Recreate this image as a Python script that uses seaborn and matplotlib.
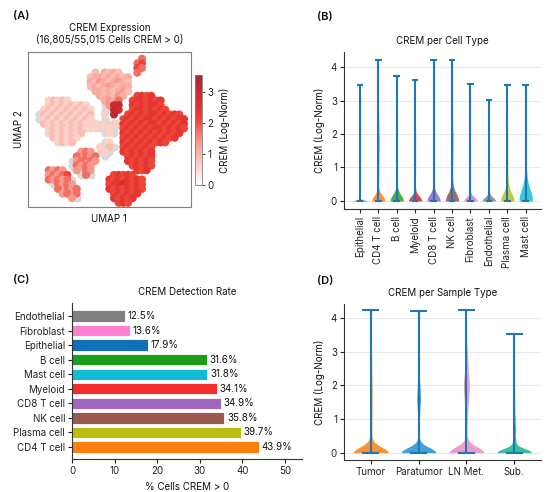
import numpy as np
import pandas as pd
import matplotlib
matplotlib.use("Agg")
import matplotlib.pyplot as plt
from matplotlib.colors import LinearSegmentedColormap, Normalize
from matplotlib.cm import ScalarMappable
import seaborn as sns

# ---------------- Panel A data: UMAP drawn as a coarse grid
# '.' = no cell, 'g' = cells with CREM = 0 (grey), digit = expression level index
umap_rows = [
    "...................................",
    "........................5..........",
    ".......................56..........",
    ".......................65..........",
    "..............2.3232...5...........",
    ".............233232323.............",
    ".............324323432.............",
    ".............232343233.............",
    "..............33232342.............",
    "...............323243..6767........",
    "....12121.......3435..6776767......",
    "....121212121...g489..7676776......",
    "...12121212121..g.98..67767676.....",
    "..g21212121212..1.9..676767767676..",
    "..g12121212121..g...67676776767677.",
    "...2121212121g1g1g1176767677676767.",
    "....1212121211g1g1g.67676767767676.",
    "....12121212....g1g.7676767676767..",
    ".....212121.........676767676767...",
    "......1212......g1..7676767676.....",
    "...............1g2g.6767676........",
    "...........454.g1g..7676767........",
    "..........5g545.g....676767........",
    ".........g45g54......767676........",
    ".........g5454........67676........",
    "....5454..4g54.........767.........",
    "....45456..g5g....67676............",
    "....54545g.......76767676..........",
    ".....g5454.......67787676..........",
    "......5g545......76767676..........",
    ".......45g5.......676767...........",
    ".........4g.......76767............",
    "...................676.............",
]
umap_level_values = [0.0, 0.65, 0.9, 1.15, 1.4, 1.75, 2.1, 2.45, 2.8, 3.15]
umap_title = "CREM Expression\n(16,805/55,015 Cells CREM > 0)"
cbar_ticks = [0, 1, 2, 3]
cbar_max = 3.55

# ---------------- Panel B data: CREM per cell type (histograms)
cell_types = ["Epithelial", "CD4 T cell", "B cell", "Myeloid", "CD8 T cell",
              "NK cell", "Fibroblast", "Endothelial", "Plasma cell", "Mast cell"]
cell_colors = ["#1f77b4", "#ff7f0e", "#2ca02c", "#d62728", "#9467bd",
               "#8c564b", "#e377c2", "#7f7f7f", "#bcbd22", "#17becf"]
expr_levels = [0.0, 0.2, 0.4, 0.7, 1.0, 1.3, 1.6, 1.9, 2.2, 2.6, 3.0]
epithelial_counts = [821, 5, 8, 12, 18, 25, 30, 28, 20, 12, 8]
cd4_counts = [561, 15, 20, 30, 40, 50, 62, 62, 45, 30, 20]
bcell_counts = [684, 20, 25, 30, 35, 35, 35, 35, 30, 25, 20]
myeloid_counts = [659, 15, 22, 30, 38, 40, 40, 38, 34, 25, 17]
cd8_counts = [651, 20, 25, 30, 38, 40, 40, 38, 34, 25, 17]
nk_counts = [642, 25, 30, 32, 35, 40, 55, 55, 40, 25, 15]
fibroblast_counts = [864, 8, 10, 12, 15, 17, 18, 17, 15, 12, 11]
endothelial_counts = [875, 8, 10, 12, 14, 16, 17, 16, 13, 10, 8]
plasma_counts = [603, 70, 60, 45, 32, 28, 28, 26, 22, 18, 14]
mast_counts = [682, 130, 120, 85, 30, 16, 13, 11, 9, 8, 7]
cell_counts = [epithelial_counts, cd4_counts, bcell_counts, myeloid_counts, cd8_counts,
               nk_counts, fibroblast_counts, endothelial_counts, plasma_counts, mast_counts]
cell_max = [3.45, 4.22, 3.73, 3.60, 4.21, 4.22, 3.48, 3.02, 3.45, 3.45]
cell_bw = [0.03, 0.16, 0.18, 0.14, 0.18, 0.22, 0.11, 0.11, 0.2, 0.26]

# ---------------- Panel C data: detection rate
rate_types = ["Endothelial", "Fibroblast", "Epithelial", "B cell", "Mast cell",
              "Myeloid", "CD8 T cell", "NK cell", "Plasma cell", "CD4 T cell"]
rates = [12.5, 13.6, 17.9, 31.6, 31.8, 34.1, 34.9, 35.8, 39.7, 43.9]
rate_colors = ["#808080", "#ff80d0", "#1170b8", "#1a9e1a", "#10bdd2",
               "#f22b2b", "#a066c0", "#9a5a4e", "#bcbd10", "#ff7f0e"]

# ---------------- Panel D data: CREM per sample type
sample_types = ["Tumor", "Paratumor", "LN Met.", "Sub."]
sample_colors = ["#ff7f0e", "#1f8fd0", "#e98ac4", "#14b38a"]
tumor_counts = [640, 25, 28, 30, 32, 35, 35, 35, 35, 35, 30]
paratumor_counts = [660, 15, 20, 22, 25, 40, 60, 45, 30, 22, 15]
lnmet_counts = [600, 12, 15, 18, 22, 35, 55, 75, 72, 55, 35]
sub_counts = [720, 30, 50, 60, 35, 25, 20, 15, 12, 10, 17]
sample_counts = [tumor_counts, paratumor_counts, lnmet_counts, sub_counts]
sample_max = [4.22, 4.21, 4.22, 3.53]
sample_bw = [0.16, 0.15, 0.17, 0.115]

line_blue = "#1f77b4"

# ---------------- style
sns.set_theme(style="ticks")
plt.rcParams["font.family"] = ["Inter", "DejaVu Sans"]
plt.rcParams.update({
    "font.size": 7, "axes.titlesize": 7, "axes.labelsize": 7,
    "xtick.labelsize": 7, "ytick.labelsize": 7,
    "axes.edgecolor": "#333333", "axes.linewidth": 0.8,
    "xtick.major.size": 3, "ytick.major.size": 3,
    "xtick.major.width": 0.8, "ytick.major.width": 0.8,
    "xtick.major.pad": 2, "ytick.major.pad": 2,
    "xtick.color": "#222222", "ytick.color": "#222222",
    "text.color": "#111111", "axes.labelcolor": "#111111",
})

W, H = 550, 492
fig = plt.figure(figsize=(W / 100, H / 100), dpi=100)


def px_axes(x0, y0, x1, y1):
    return fig.add_axes([x0 / W, 1 - y1 / H, (x1 - x0) / W, (y1 - y0) / H])


# ---------------- Panel A
cmap = LinearSegmentedColormap.from_list(
    "crem", [(0.0, "#ffffff"), (0.2, "#fbcbc1"), (0.4, "#f6968a"),
             (0.6, "#ee4236"), (0.8, "#d82a2c"), (1.0, "#9f2a3d")])
norm = Normalize(0, cbar_max)
recs = []
for r, line in enumerate(umap_rows):
    for c, ch in enumerate(line):
        if ch == ".":
            continue
        if ch == "g":
            recs.append({"x": c, "y": -r, "kind": "zero", "value": 0.0})
        else:
            recs.append({"x": c, "y": -r, "kind": "expr", "value": umap_level_values[int(ch)]})
dfu = pd.DataFrame(recs)
axA = px_axes(27.7, 51.7, 191, 207)
sns.scatterplot(data=dfu[dfu.kind == "zero"], x="x", y="y", color="#d9d9d9",
                s=34, linewidth=0, ax=axA)
sns.scatterplot(data=dfu[dfu.kind == "expr"], x="x", y="y", hue="value", palette=cmap,
                hue_norm=norm, s=34, linewidth=0, legend=False, ax=axA)
axA.set_xlim(-0.5, 34.5)
axA.set_ylim(-32.9, 0.5)
axA.set_xticks([])
axA.set_yticks([])
for s in axA.spines.values():
    s.set_color("#808080")
    s.set_linewidth(0.8)
axA.set_xlabel("UMAP 1", labelpad=5)
axA.set_ylabel("UMAP 2", labelpad=3)
axA.set_title(umap_title, pad=6, linespacing=1.15)

cax = px_axes(195, 75, 202, 185)
cb = fig.colorbar(ScalarMappable(norm=norm, cmap=cmap), cax=cax)
cb.set_ticks(cbar_ticks)
cb.outline.set_edgecolor("#808080")
cb.outline.set_linewidth(0.6)
cax.tick_params(length=2, width=0.6, pad=2)
cb.set_label("CREM (Log-Norm)", labelpad=4)


def violins(ax, cats, colors, counts, maxes, bws):
    for i, cat in enumerate(cats):
        vals = np.repeat(np.array(expr_levels + [maxes[i]]), counts[i] + [1])
        factor = bws[i] / np.std(vals, ddof=1)
        sns.violinplot(x=[cat] * len(vals), y=vals, order=cats, color=colors[i],
                       saturation=1, inner=None, cut=0, density_norm="width",
                       width=0.72, linewidth=0, bw_method=factor, alpha=0.85,
                       gridsize=200, ax=ax)
        ax.vlines(i, vals.min(), vals.max(), color=line_blue, lw=1.5, zorder=3)
        ax.hlines([vals.min(), vals.max()], i - 0.18, i + 0.18, color=line_blue,
                  lw=1.5, zorder=3)
    ax.yaxis.grid(True, color="#e8e8e8", lw=0.8)
    ax.set_axisbelow(True)
    ax.set_yticks([0, 1, 2, 3, 4])
    ax.set_ylabel("CREM (Log-Norm)")
    ax.set_xlabel("")
    sns.despine(ax=ax)


# ---------------- Panel B
axB = px_axes(344, 52, 541, 209)
violins(axB, cell_types, cell_colors, cell_counts, cell_max, cell_bw)
axB.set_xlim(-0.86, 9.83)
axB.set_ylim(-0.24, 4.45)
axB.tick_params(axis="x", labelrotation=90)
axB.set_title("CREM per Cell Type", pad=6)

# ---------------- Panel C
axC = px_axes(72, 303, 302, 459)
sns.barplot(x=rates, y=rate_types, hue=rate_types, palette=rate_colors, orient="h",
            width=0.78, saturation=1, edgecolor="white", linewidth=0.6,
            legend=False, ax=axC)
for i, v in enumerate(rates):
    axC.text(v + 0.6, i, f"{v:.1f}%", va="center", ha="left", fontsize=7)
axC.set_xlim(0, 54)
axC.set_ylim(9.82, -0.89)
axC.set_xticks([0, 10, 20, 30, 40, 50])
axC.set_xlabel("% Cells CREM > 0")
axC.set_ylabel("")
axC.set_title("CREM Detection Rate", pad=6)
sns.despine(ax=axC)

# ---------------- Panel D
axD = px_axes(344, 304, 541, 460)
violins(axD, sample_types, sample_colors, sample_counts, sample_max, sample_bw)
axD.set_xlim(-0.56, 3.56)
axD.set_ylim(-0.22, 4.41)
axD.set_title("CREM per Sample Type", pad=6)

# ---------------- panel letters
for lab, x, y in [("(A)", 21, 16), ("(B)", 325, 17), ("(C)", 21, 280), ("(D)", 325, 281)]:
    fig.text(x / W, 1 - y / H, lab, ha="center", va="center", fontsize=8,
             fontweight="semibold")

fig.savefig("out.png", dpi=100)
